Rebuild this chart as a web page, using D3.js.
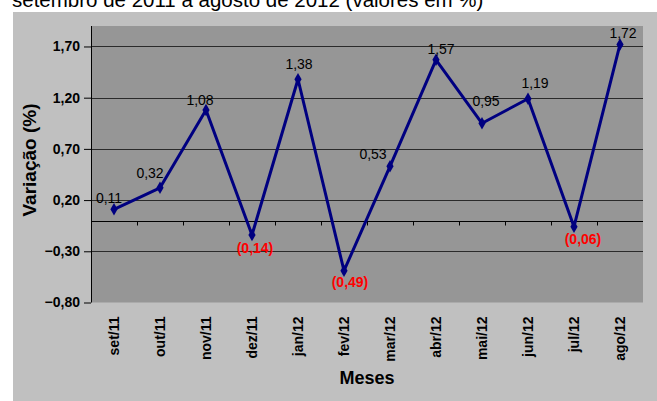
<!DOCTYPE html>
<head>
  <meta charset="utf-8">
  <title>Variação mensal</title>
  <script src="https://d3js.org/d3.v7.min.js"></script>
  <style>
    body { margin: 0; background: #fff; }
    svg { display: block; font-family: Arial, "Liberation Sans", sans-serif; }
  </style>
</head>
<body>
  <svg id="chart" width="657" height="401"></svg>
  <script>
    // data
    var months = ["set/11", "out/11", "nov/11", "dez/11", "jan/12", "fev/12",
                  "mar/12", "abr/12", "mai/12", "jun/12", "jul/12", "ago/12"];
    var values = [0.11, 0.32, 1.08, -0.14, 1.38, -0.49, 0.53, 1.57, 0.95, 1.19, -0.06, 1.72];
    var yTicks = [-0.8, -0.3, 0.2, 0.7, 1.2, 1.7];

    // nudges for the data labels (dx, dy from the point), as placed in the original
    var labelNudge = [[-5, -6], [-10, -10], [-6, -5], [3, 18], [1, -10], [6, 16],
                      [-17, -7], [5, -6], [4, -17], [7, -11], [9, 17], [3, -6]];

    var svg = d3.select("#chart");
    // note: "top" is taken by window.top, so plot edges get their own names
    var plotL = 91, plotR = 643, plotT = 26, plotB = 302.5;

    var x = d3.scaleBand().domain(months).range([plotL, plotR]);
    var y = d3.scaleLinear().domain([-0.8, 1.9]).range([plotB, plotT]);

    var comma = function(v) { return d3.format(".2f")(v).replace(".", ","); };

    // title (cut off at the top like the source image)
    svg.append("text")
      .attr("x", 12).attr("y", 7)
      .style("font-size", "20.5px")
      .text("setembro de 2011 a agosto de 2012 (valores em %)");

    // chart area + plot area
    svg.append("rect").attr("x", 13).attr("y", 12).attr("width", 644).attr("height", 389)
      .attr("fill", "#c0c0c0");
    svg.append("rect").attr("x", plotL).attr("y", plotT)
      .attr("width", plotR - plotL).attr("height", plotB - plotT)
      .attr("fill", "#969696");

    // gridlines
    svg.selectAll(".grid")
      .data(yTicks.filter(function(t) { return t > -0.8; }))
      .enter().append("line")
      .attr("x1", plotL).attr("x2", plotR)
      .attr("y1", function(d) { return Math.round(y(d)) + 0.5; })
      .attr("y2", function(d) { return Math.round(y(d)) + 0.5; })
      .attr("stroke", "#2a2a2a").attr("stroke-width", 1);

    // y axis
    var yAxis = svg.append("g")
      .attr("transform", "translate(" + plotL + ",0)")
      .call(d3.axisLeft(y).tickValues(yTicks).tickSize(7).tickFormat(comma));
    yAxis.select(".domain").remove();
    yAxis.selectAll("line").attr("stroke", "#000");
    yAxis.selectAll("text")
      .attr("x", -11)
      .style("font-size", "14px").style("font-weight", "bold").attr("fill", "#000");
    svg.append("line")
      .attr("x1", plotL + 0.5).attr("x2", plotL + 0.5)
      .attr("y1", plotT).attr("y2", plotB)
      .attr("stroke", "#000");

    // category axis crossing at zero
    var y0 = Math.round(y(0)) + 0.5;
    svg.append("line")
      .attr("x1", plotL).attr("x2", plotR).attr("y1", y0).attr("y2", y0)
      .attr("stroke", "#000");
    svg.selectAll(".xtick")
      .data(months.slice(1))
      .enter().append("line")
      .attr("x1", function(d) { return Math.round(x(d)) + 0.5; })
      .attr("x2", function(d) { return Math.round(x(d)) + 0.5; })
      .attr("y1", y0).attr("y2", y0 + 4)
      .attr("stroke", "#000");

    // month labels under the plot
    var xAxis = svg.append("g")
      .attr("transform", "translate(0," + plotB + ")")
      .call(d3.axisBottom(x).tickSize(0));
    xAxis.select(".domain").remove();
    xAxis.selectAll("text")
      .attr("transform", "rotate(-90)")
      .attr("x", -14).attr("y", 0).attr("dy", "0.36em")
      .attr("text-anchor", "end")
      .style("font-size", "14px").style("font-weight", "bold").attr("fill", "#000");

    // axis titles
    svg.append("text")
      .attr("x", (plotL + plotR) / 2).attr("y", 384)
      .attr("text-anchor", "middle")
      .style("font-size", "18px").style("font-weight", "bold")
      .text("Meses");
    svg.append("text")
      .attr("transform", "translate(36,160) rotate(-90)")
      .attr("text-anchor", "middle")
      .style("font-size", "19px").style("font-weight", "bold")
      .text("Variação (%)");

    // series
    var line = d3.line()
      .x(function(d, i) { return x(months[i]) + x.bandwidth() / 2; })
      .y(function(d) { return y(d); });
    svg.append("path")
      .datum(values)
      .attr("d", line)
      .attr("fill", "none")
      .attr("stroke", "#000080")
      .attr("stroke-width", 3)
      .attr("stroke-linejoin", "round");

    svg.selectAll(".marker")
      .data(values)
      .enter().append("path")
      .attr("d", d3.symbol().type(d3.symbolDiamond).size(45))
      .attr("transform", function(d, i) {
        return "translate(" + (x(months[i]) + x.bandwidth() / 2) + "," + y(d) + ")";
      })
      .attr("fill", "#000080");

    // data labels
    svg.selectAll(".dlabel")
      .data(values)
      .enter().append("text")
      .attr("x", function(d, i) { return x(months[i]) + x.bandwidth() / 2 + labelNudge[i][0]; })
      .attr("y", function(d, i) { return y(d) + labelNudge[i][1]; })
      .attr("text-anchor", "middle")
      .style("font-size", "14px")
      .style("font-weight", function(d) { return d < 0 ? "bold" : "normal"; })
      .attr("fill", function(d) { return d < 0 ? "#ff0000" : "#000"; })
      .text(function(d) { return d < 0 ? "(" + comma(-d) + ")" : comma(d); });
  </script>
</body>
</html>
